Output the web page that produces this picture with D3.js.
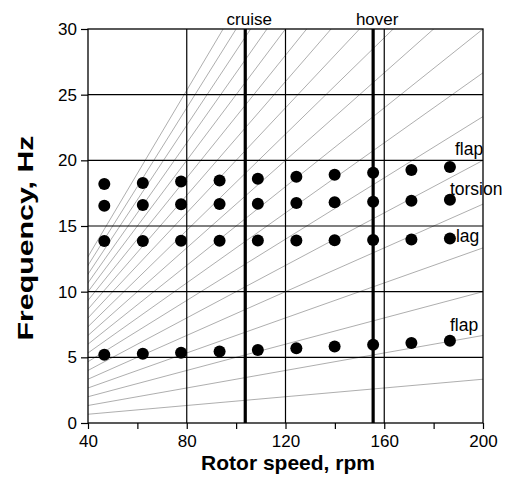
<!DOCTYPE html>
<html><head><meta charset="utf-8">
<script src="https://cdn.jsdelivr.net/npm/d3@7"></script>
<style>body{margin:0;background:#fff}svg{display:block}text{font-family:"Liberation Sans",Arial,sans-serif}</style>
</head><body><svg id="c" width="509" height="477"></svg>
<script>
const rpm = [46.6, 62.2, 77.7, 93.3, 108.8, 124.4, 139.9, 155.5, 171.0, 186.6];
const flapHigh = [18.2, 18.28, 18.38, 18.47, 18.6, 18.75, 18.9, 19.05, 19.27, 19.5];
const torsion = [16.55, 16.6, 16.65, 16.68, 16.7, 16.75, 16.8, 16.85, 16.92, 17.0];
const lag = [13.85, 13.86, 13.87, 13.88, 13.9, 13.9, 13.92, 13.93, 13.97, 14.05];
const flapLow = [5.2, 5.27, 5.35, 5.45, 5.56, 5.69, 5.82, 5.95, 6.1, 6.27];
const harmonics = [1, 2, 3, 4, 5, 6, 7, 8, 9, 10, 11, 12, 13, 14, 15, 16, 17, 18, 19];
const operating = [{name: "cruise", rpm: 103.7}, {name: "hover", rpm: 155.5}];
const xTicks = [40, 80, 120, 160, 200];
const xMinor = [60, 100, 140, 180];
const yTicks = [0, 5, 10, 15, 20, 25, 30];
const xGrid = [80, 120, 160];
const yGrid = [5, 10, 15, 20, 25];
const modeLabels = [
  {text: "flap", series: flapHigh, dx: 5, dy: -11.6},
  {text: "torsion", series: torsion, dx: 0, dy: -4.7},
  {text: "lag", series: lag, dx: 6, dy: 3.5},
  {text: "flap", series: flapLow, dx: 0, dy: -10}
];

const svg = d3.select("#c");
const L = 88, R = 483, T = 29, B = 423;
const x = d3.scaleLinear().domain([40, 200]).range([L, R]);
const y = d3.scaleLinear().domain([0, 30]).range([B, T]);

svg.append("defs").append("clipPath").attr("id", "clip")
  .append("rect").attr("x", L).attr("y", T).attr("width", R - L).attr("height", B - T);

// fan lines n/rev
const fan = svg.append("g").attr("clip-path", "url(#clip)");
harmonics.forEach(n => {
  fan.append("line")
    .attr("x1", x(0)).attr("y1", y(0))
    .attr("x2", x(200)).attr("y2", y(n * 200 / 60))
    .attr("stroke", "#999").attr("stroke-width", 0.8);
});

// grid
svg.append("g").selectAll("line").data(xGrid).join("line")
  .attr("x1", d => x(d)).attr("x2", d => x(d)).attr("y1", T).attr("y2", B)
  .attr("stroke", "#000").attr("stroke-width", 1.2);
svg.append("g").selectAll("line").data(yGrid).join("line")
  .attr("x1", L).attr("x2", R).attr("y1", d => y(d)).attr("y2", d => y(d))
  .attr("stroke", "#000").attr("stroke-width", 1.2);

// frame
svg.append("rect").attr("x", L).attr("y", T).attr("width", R - L).attr("height", B - T)
  .attr("fill", "none").attr("stroke", "#000").attr("stroke-width", 1.3);

// axes
svg.append("g").attr("transform", `translate(0,${B})`)
  .call(d3.axisBottom(x).tickValues(xTicks).tickSize(6).tickPadding(6).tickFormat(d3.format("d")));
svg.append("g").attr("transform", `translate(0,${B})`)
  .call(d3.axisBottom(x).tickValues(xMinor).tickSize(6).tickFormat(""));
svg.append("g").attr("transform", `translate(${L},0)`)
  .call(d3.axisLeft(y).tickValues(yTicks).tickSize(7).tickPadding(4).tickFormat(d3.format("d")));
svg.selectAll(".domain").remove();
svg.selectAll(".tick line").attr("stroke", "#000").attr("stroke-width", 1.2);
svg.selectAll(".tick text").attr("font-size", 17).attr("fill", "#000")
  .attr("font-family", "'Liberation Sans', Arial, sans-serif");

// operating lines
svg.append("g").selectAll("line").data(operating).join("line")
  .attr("x1", d => x(d.rpm)).attr("x2", d => x(d.rpm)).attr("y1", T).attr("y2", B)
  .attr("stroke", "#000").attr("stroke-width", 3.2);
svg.append("g").selectAll("text").data(operating).join("text")
  .attr("x", d => x(d.rpm) + 4).attr("y", 25).attr("text-anchor", "middle")
  .attr("font-size", 17).text(d => d.name);

// points
[flapHigh, torsion, lag, flapLow].forEach(s => {
  svg.append("g").selectAll("circle").data(s).join("circle")
    .attr("cx", (d, i) => x(rpm[i])).attr("cy", d => y(d)).attr("r", 6).attr("fill", "#000");
});

// mode labels
svg.append("g").selectAll("text").data(modeLabels).join("text")
  .attr("x", d => x(rpm[rpm.length - 1]) + d.dx)
  .attr("y", d => y(d.series[d.series.length - 1]) + d.dy)
  .attr("font-size", 17.5).text(d => d.text);

// axis titles
svg.append("text").attr("x", 288).attr("y", 470).attr("text-anchor", "middle")
  .attr("font-size", 21).attr("font-weight", "bold").text("Rotor speed, rpm");
svg.append("text").attr("transform", `translate(33,238) rotate(-90)`)
  .attr("text-anchor", "middle").attr("font-size", 22).attr("font-weight", "bold")
  .attr("textLength", 205).attr("lengthAdjust", "spacingAndGlyphs").text("Frequency, Hz");
</script></body></html>
